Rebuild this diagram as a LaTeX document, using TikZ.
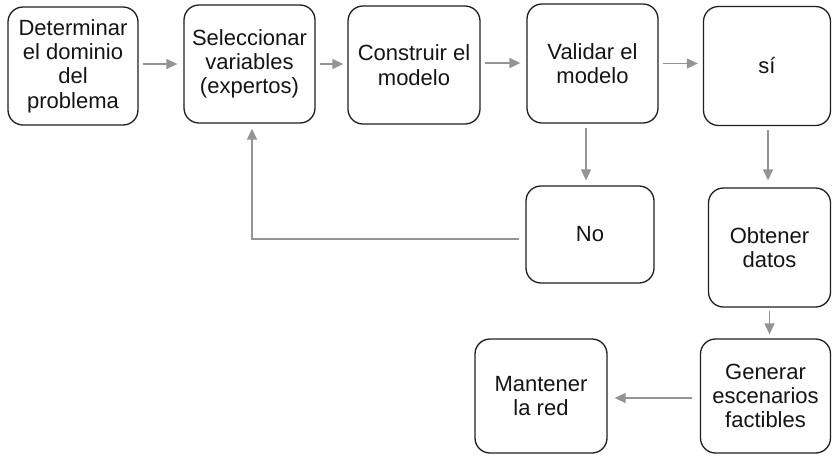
\documentclass[tikz,border=0pt]{standalone}
\usepackage{fontspec}
\setmainfont{Liberation Sans}
\usetikzlibrary{arrows.meta}
\begin{document}
\begin{tikzpicture}[x=1pt,y=-1pt,
  box/.style={draw=black!88, line width=1.3pt, rounded corners=15pt, align=center,
    font=\fontsize{22}{24.3}\selectfont, inner sep=0pt, text=black!92},
  arr/.style={draw=black!42, line width=1.3pt, -{Triangle[length=11pt,width=10pt]}}]
\useasboundingbox (0,0) rectangle (832,456);
\node[box, minimum width=130pt, minimum height=118pt] (b1) at (73,66) {Determinar\\el dominio\\del\\problema};
\node[box, minimum width=131pt, minimum height=118pt] (b2) at (249.5,64) {Seleccionar\\variables\\(expertos)};
\node[box, minimum width=132pt, minimum height=118pt] (b3) at (414,65) {Construir el\\modelo};
\node[box, minimum width=131pt, minimum height=119pt] (b4) at (592.5,63.5) {Validar el\\modelo};
\node[box, minimum width=127pt, minimum height=119pt] (b5) at (767,66) {sí};
\node[box, minimum width=128pt, minimum height=97pt] (no) at (590,234.5) {No};
\node[box, minimum width=122pt, minimum height=119pt] (ob) at (769.5,247.5) {Obtener\\datos};
\node[box, minimum width=130pt, minimum height=114pt] (gen) at (765.5,396) {Generar\\escenarios\\factibles};
\node[box, minimum width=132pt, minimum height=114pt] (man) at (541,396) {Mantener\\la red};
\draw[arr, shorten <=4pt, shorten >=6pt] ([yshift=2pt]b1.east) -- ([yshift=2pt]b1.east -| b2.west);
\draw[arr, shorten <=4pt, shorten >=4pt] (b2.east) -- (b2.east -| b3.west);
\draw[arr, shorten <=4pt, shorten >=6pt] ([yshift=2pt]b3.east) -- ([yshift=2pt]b3.east -| b4.west);
\draw[arr, shorten <=4pt, shorten >=5pt] (b4.east) -- (b4.east -| b5.west);
\draw[arr, shorten <=4pt, shorten >=5pt] ([xshift=-6.5pt]b4.south) -- ([xshift=-6.5pt]b4.south |- no.north);
\draw[arr, shorten <=4pt, shorten >=7pt] ([xshift=1pt]b5.south) -- ([xshift=1pt]b5.south |- ob.north);
\draw[arr, shorten <=3pt, shorten >=4pt] (ob.south) -- (ob.south |- gen.north);
\draw[arr, shorten <=8pt, shorten >=7pt] ([yshift=-2pt]gen.west) -- ([yshift=-2pt]gen.west -| man.east);
\draw[arr, shorten <=6pt, shorten >=5pt] ([yshift=-4.5pt]no.west) -| ([xshift=2.5pt]b2.south);
\end{tikzpicture}
\end{document}
